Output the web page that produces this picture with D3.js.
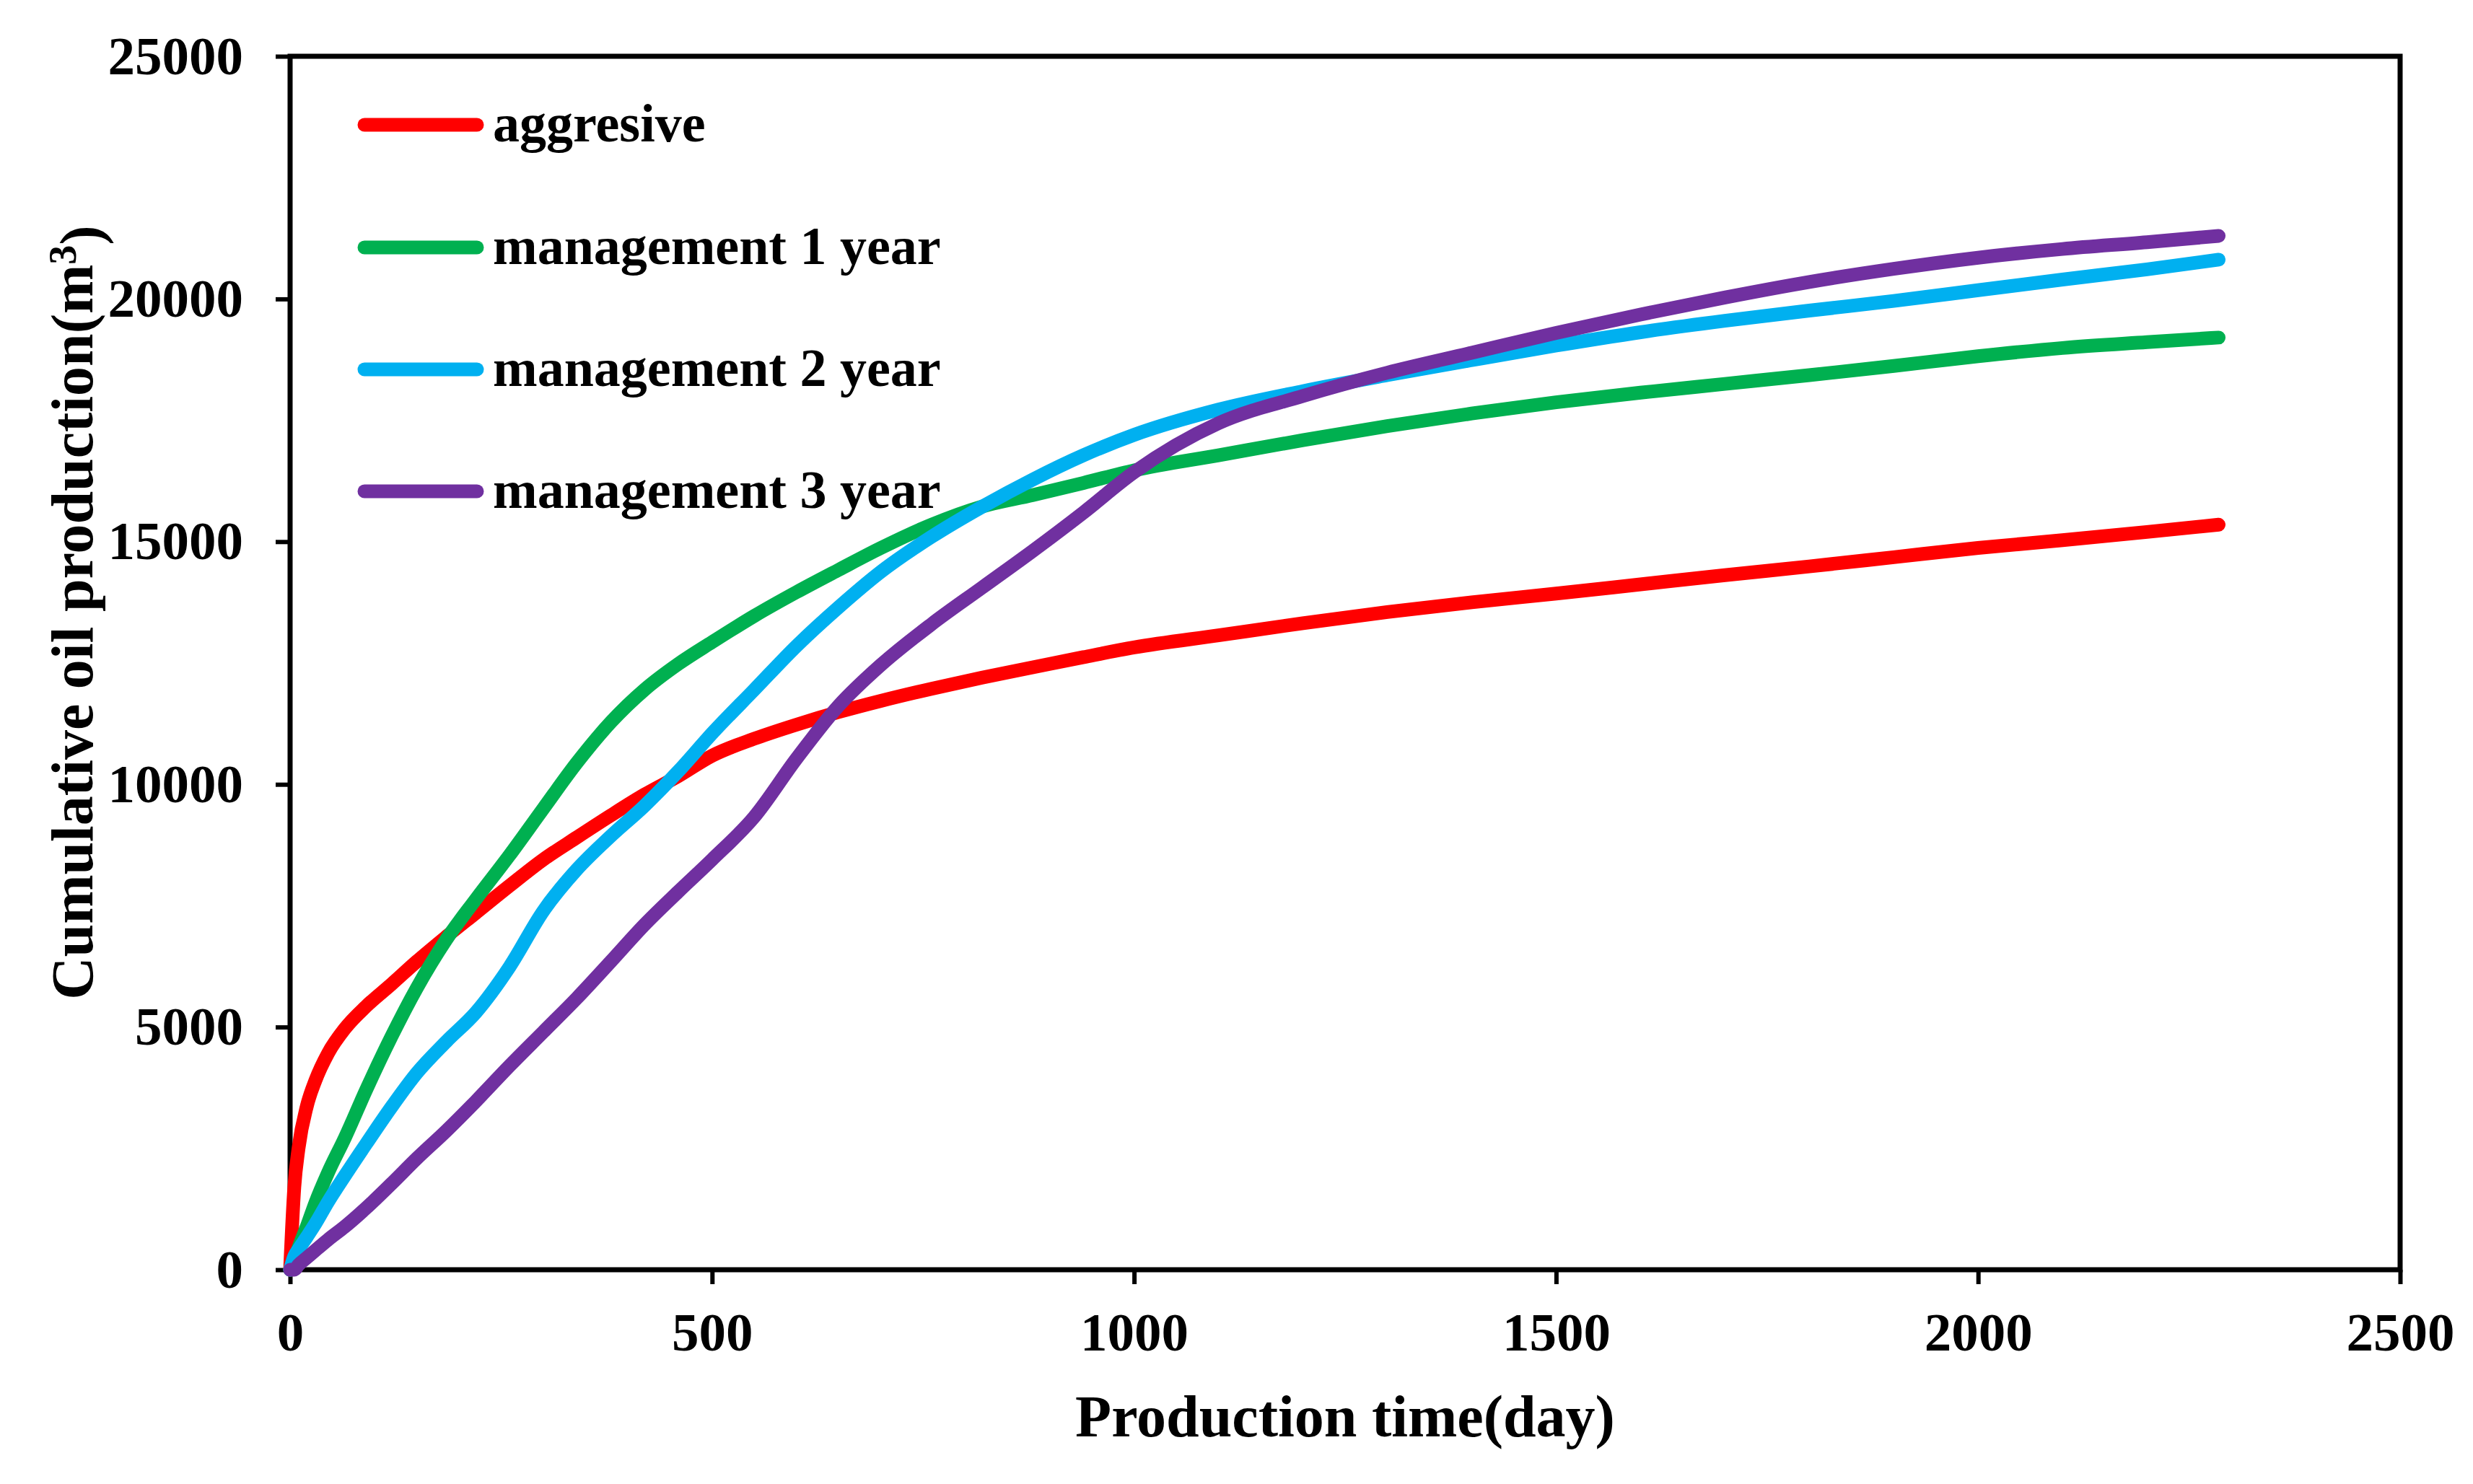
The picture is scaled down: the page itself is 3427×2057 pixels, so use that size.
<!DOCTYPE html>
<html>
<head>
<meta charset="utf-8">
<script src="https://cdn.jsdelivr.net/npm/d3@7"></script>
<style>
  html, body { margin: 0; padding: 0; background: #ffffff; }
  svg { display: block; }
  text { font-family: "Liberation Serif", "Times New Roman", serif; font-weight: bold; fill: #000; }
</style>
</head>
<body>
<svg id="chart" width="3427" height="2057"></svg>
<script>
// ---- data ----
const days = [0, 5, 10, 20, 30, 45, 65, 90, 120, 150, 185, 220, 260, 300, 340, 380, 420, 460, 500,
  550, 600, 650, 700, 760, 820, 880, 940, 1000, 1100, 1200, 1300, 1400, 1500, 1600, 1700, 1800,
  1900, 2000, 2100, 2200, 2285];

const aggresive = [0, 1700, 2500, 3380, 3900, 4460, 4970, 5425, 5880, 6350, 6860, 7350, 7910, 8450,
  8910, 9360, 9790, 10170, 10590, 10940, 11230, 11490, 11720, 11970, 12200, 12410, 12620, 12820,
  13070, 13320, 13550, 13750, 13930, 14120, 14310, 14490, 14680, 14870, 15030, 15200, 15350];

const management1 = [0, 200, 450, 900, 1380, 2000, 2720, 3700, 4800, 5800, 6800, 7630, 8540, 9500,
  10450, 11280, 11950, 12480, 12930, 13470, 13960, 14420, 14870, 15350, 15725, 15960, 16210, 16470,
  16780, 17090, 17380, 17640, 17870, 18070, 18250, 18430, 18620, 18820, 18990, 19110, 19205];

const management2 = [0, 280, 420, 680, 950, 1400, 1940, 2590, 3350, 4050, 4700, 5300, 6240, 7390,
  8250, 8935, 9560, 10270, 11050, 11950, 12850, 13650, 14380, 15100, 15720, 16280, 16780, 17200,
  17720, 18100, 18430, 18740, 19040, 19315, 19550, 19760, 19960, 20180, 20400, 20610, 20810];

const management3 = [0, 0, 100, 250, 400, 620, 890, 1270, 1770, 2290, 2860, 3470, 4200, 4900,
  5600, 6350, 7110, 7790, 8450, 9330, 10530, 11620, 12460, 13300, 14055, 14810, 15600, 16430,
  17440, 18000, 18480, 18890, 19300, 19680, 20030, 20350, 20620, 20850, 21030, 21170, 21300];

const seriesNames = ["aggresive", "management 1 year", "management 2 year", "management 3 year"];
const seriesColors = ["#FF0000", "#00B050", "#00B0F0", "#7030A0"];
const seriesValues = [aggresive, management1, management2, management3];

const xTicks = [0, 500, 1000, 1500, 2000, 2500];
const yTicks = [0, 5000, 10000, 15000, 20000, 25000];

const xTitle = "Production time(day)";
const yTitleMain = "Cumulative oil production(m";
const yTitleSup = "3";
const yTitleEnd = ")";

// ---- layout ----
const L = 402, R = 3326, T = 78, B = 1760;
const svg = d3.select("#chart");

const x = d3.scaleLinear().domain([0, 2500]).range([L, R]);
const y = d3.scaleLinear().domain([0, 25000]).range([B, T]);

// axes
const xAxis = d3.axisBottom(x).tickValues(xTicks).tickSize(20).tickPadding(39).tickFormat(d3.format("d"));
const yAxis = d3.axisLeft(y).tickValues(yTicks).tickSize(20).tickPadding(45).tickFormat(d3.format("d"));

const gx = svg.append("g").attr("transform", `translate(0,${B})`).call(xAxis);
const gy = svg.append("g").attr("transform", `translate(${L},0)`).call(yAxis);
[gx, gy].forEach(g => {
  g.select(".domain").remove();
  g.selectAll(".tick line").attr("stroke", "#000").attr("stroke-width", 6);
  g.selectAll(".tick text")
    .style("font-family", '"Liberation Serif", "Times New Roman", serif')
    .style("font-weight", "bold")
    .style("font-size", "75px")
    .attr("fill", "#000");
});

// frame
svg.append("rect")
  .attr("x", L).attr("y", T)
  .attr("width", R - L).attr("height", B - T)
  .attr("fill", "none").attr("stroke", "#000").attr("stroke-width", 7);

// lines
const line = d3.line()
  .x((d, i) => x(days[i]))
  .y(d => y(d))
  .curve(d3.curveMonotoneX);

seriesValues.forEach((vals, k) => {
  svg.append("path")
    .datum(vals)
    .attr("d", line)
    .attr("fill", "none")
    .attr("stroke", seriesColors[k])
    .attr("stroke-width", 19)
    .attr("stroke-linecap", "round")
    .attr("stroke-linejoin", "round");
});

// legend
const legendY = [173, 343, 512, 681];
seriesNames.forEach((name, k) => {
  svg.append("line")
    .attr("x1", 505).attr("x2", 661)
    .attr("y1", legendY[k]).attr("y2", legendY[k])
    .attr("stroke", seriesColors[k])
    .attr("stroke-width", 19)
    .attr("stroke-linecap", "round");
  svg.append("text")
    .attr("x", 683).attr("y", legendY[k] + 23)
    .style("font-size", "74px")
    .text(name);
});

// axis titles
svg.append("text")
  .attr("x", (L + R) / 2).attr("y", 1991)
  .attr("text-anchor", "middle")
  .style("font-size", "82px")
  .text(xTitle);

const yt = svg.append("text")
  .attr("transform", `translate(128,849) rotate(-90)`)
  .attr("text-anchor", "middle")
  .style("font-size", "82px");
yt.append("tspan").text(yTitleMain);
yt.append("tspan").attr("dy", "-0.42em").style("font-size", "54px").text(yTitleSup);
yt.append("tspan").attr("dy", "0.42em").text(yTitleEnd);
</script>
</body>
</html>
